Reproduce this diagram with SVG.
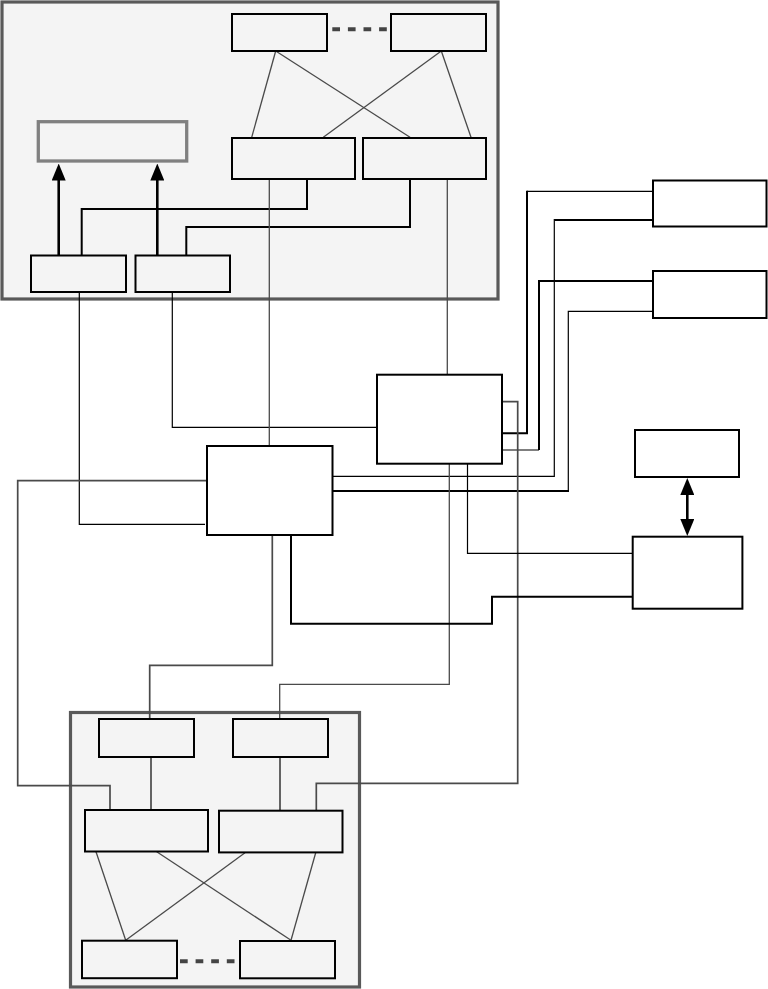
<svg xmlns="http://www.w3.org/2000/svg" width="768" height="989" viewBox="0 0 768 989">
<style>
.cont{fill:#f4f4f4;stroke:#595959;stroke-width:3.2}
.bx{fill:#f4f4f4;stroke:#000;stroke-width:2}
.bw{fill:#fff;stroke:#000;stroke-width:2}
.thin{fill:none;stroke:#000;stroke-width:1.2}
.thick{fill:none;stroke:#000;stroke-width:2}
.arr{fill:none;stroke:#000;stroke-width:2.6}
.g{fill:none;stroke:#4a4a4a;stroke-width:1.3}
.gt{fill:none;stroke:#4a4a4a;stroke-width:1.7}
.dash{fill:none;stroke:#444;stroke-width:4;stroke-dasharray:7.7 7.9}
</style>
<defs>
<marker id="ah" markerWidth="17" markerHeight="14" refX="7" refY="7" orient="auto-start-reverse" markerUnits="userSpaceOnUse" viewBox="0 0 17 14">
<path d="M0,0 L17,7 L0,14 Z" fill="#000"/>
</marker>
</defs>

<g id="top-container">
<rect class="cont" x="2" y="2" width="496" height="297"/>
</g>
<g id="bottom-container">
<rect class="cont" x="70.5" y="712.5" width="289" height="274.5"/>
</g>

<g id="connectors">
<!-- top container internals -->
<line class="dash" x1="332.3" y1="29.3" x2="387" y2="29.3"/>
<line class="g" x1="275.7" y1="51" x2="251.7" y2="137.3"/>
<line class="g" x1="275.7" y1="51" x2="410" y2="137.3"/>
<line class="g" x1="441.3" y1="51" x2="323.3" y2="137.3"/>
<line class="g" x1="441.3" y1="51" x2="471" y2="137.3"/>
<line class="arr" x1="58.7" y1="255" x2="58.7" y2="173.5" marker-end="url(#ah)"/>
<line class="arr" x1="157.3" y1="255" x2="157.3" y2="173.5" marker-end="url(#ah)"/>
<polyline class="thick" points="81.7,255 81.7,209 307,209 307,179.3"/>
<polyline class="thick" points="186.3,255 186.3,227 410,227 410,179.3"/>

<!-- from top container down -->
<polyline class="thin" points="79.3,292.3 79.3,524.3 205,524.3"/>
<polyline class="thin" points="172.3,292.3 172.3,427.3 376.7,427.3"/>
<line class="g" x1="269.3" y1="179.3" x2="269.3" y2="445.7"/>
<line class="g" x1="447.3" y1="179.3" x2="447.3" y2="374.3"/>

<!-- right side -->
<line class="thin" x1="652.7" y1="191.3" x2="527" y2="191.3"/>
<polyline class="thick" points="527,190.7 527,433.3 502,433.3"/>
<line class="thick" x1="652.7" y1="220" x2="554.3" y2="220"/>
<polyline class="thin" points="554.3,219 554.3,476.3 332.7,476.3"/>
<polyline class="thick" points="652.7,281 539,281 539,450"/>
<line class="thin" x1="539" y1="450" x2="502" y2="450"/>
<polyline class="thin" points="652.7,311.3 568.3,311.3 568.3,491"/>
<line class="thick" x1="569" y1="491" x2="332.7" y2="491"/>

<!-- from I -->
<polyline class="gt" points="502,401.7 517.7,401.7 517.7,783.3 316.3,783.3 316.3,810.3"/>
<polyline class="g" points="449.3,464 449.3,684.3 279.7,684.3 279.7,718.7"/>
<polyline class="thin" points="467.5,464 467.5,553.3 632.3,553.3"/>

<!-- from H -->
<polyline class="gt" points="272.3,535.3 272.3,665.3 149.7,665.3 149.7,718.7"/>
<polyline class="thick" points="291,535.3 291,623.7 492,623.7 492,596.7 632.3,596.7"/>
<polyline class="gt" points="206.7,480.7 17.7,480.7 17.7,785.7 110,785.7 110,809.7"/>

<!-- double arrow -->
<line class="arr" x1="687.3" y1="488" x2="687.3" y2="526" marker-start="url(#ah)" marker-end="url(#ah)"/>

<!-- bottom container internals -->
<line class="gt" x1="151" y1="757.3" x2="151" y2="809.7"/>
<line class="gt" x1="280" y1="757.3" x2="280" y2="810.3"/>
<line class="g" x1="96" y1="851.7" x2="125.7" y2="940.3"/>
<line class="g" x1="156.7" y1="851.7" x2="291" y2="940.3"/>
<line class="g" x1="245" y1="852.7" x2="125.7" y2="940.3"/>
<line class="g" x1="315.7" y1="852.7" x2="291" y2="940.3"/>
<line class="dash" x1="180" y1="961.3" x2="235" y2="961.3"/>
</g>

<g id="node-A"><rect class="bx" x="232" y="14" width="95" height="37"/></g>
<g id="node-B"><rect class="bx" x="391" y="14" width="95" height="37"/></g>
<g id="node-C"><rect class="bx" x="232" y="138" width="123" height="41"/></g>
<g id="node-D"><rect class="bx" x="363" y="138" width="123" height="41"/></g>
<g id="node-E"><rect x="38.3" y="121.7" width="148.4" height="39.3" fill="#f4f4f4" stroke="#808080" stroke-width="3.3"/></g>
<g id="node-F"><rect class="bx" x="31" y="255.5" width="95" height="36.5"/></g>
<g id="node-G"><rect class="bx" x="135.5" y="255.5" width="94.5" height="36.5" stroke-width="1.5"/></g>

<g id="node-I"><rect class="bw" x="377" y="374.7" width="125" height="89"/></g>
<g id="node-H"><rect class="bw" x="207" y="446" width="125.5" height="89"/></g>
<g id="node-J"><rect class="bw" x="653" y="180.5" width="113.5" height="46"/></g>
<g id="node-K"><rect class="bw" x="653" y="271" width="113.5" height="47"/></g>
<g id="node-L"><rect class="bw" x="635" y="430" width="104" height="47"/></g>
<g id="node-M"><rect class="bw" x="632.7" y="536.7" width="109.7" height="72" stroke-width="1.6"/></g>

<g id="node-N"><rect class="bx" x="99" y="719" width="95" height="38"/></g>
<g id="node-O"><rect class="bx" x="233" y="719" width="95" height="38"/></g>
<g id="node-P"><rect class="bx" x="85" y="810" width="123" height="41.5"/></g>
<g id="node-Q"><rect class="bx" x="219" y="810.7" width="123.5" height="41.7"/></g>
<g id="node-R"><rect class="bx" x="82" y="940.7" width="95" height="37.5"/></g>
<g id="node-S"><rect class="bx" x="240" y="941" width="95" height="37.3"/></g>
</svg>
